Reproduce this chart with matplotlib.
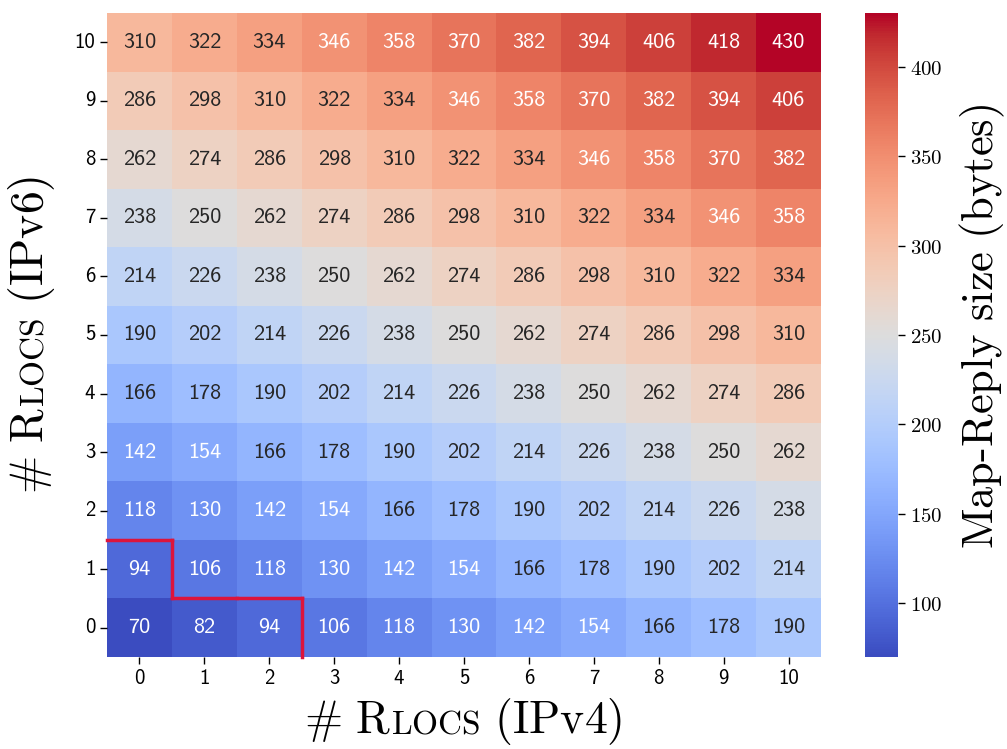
import numpy as np
import matplotlib
matplotlib.use("Agg")
import matplotlib.pyplot as plt
import seaborn as sns
from matplotlib.transforms import IdentityTransform

plt.rcParams['mathtext.fontset'] = 'cm'
plt.rcParams['axes.unicode_minus'] = False

ipv4_counts = [0, 1, 2, 3, 4, 5, 6, 7, 8, 9, 10]
ipv6_counts = [0, 1, 2, 3, 4, 5, 6, 7, 8, 9, 10]
# rows: IPv6 RLOCs 0..10, columns: IPv4 RLOCs 0..10
sizes = [
    [70, 82, 94, 106, 118, 130, 142, 154, 166, 178, 190],
    [94, 106, 118, 130, 142, 154, 166, 178, 190, 202, 214],
    [118, 130, 142, 154, 166, 178, 190, 202, 214, 226, 238],
    [142, 154, 166, 178, 190, 202, 214, 226, 238, 250, 262],
    [166, 178, 190, 202, 214, 226, 238, 250, 262, 274, 286],
    [190, 202, 214, 226, 238, 250, 262, 274, 286, 298, 310],
    [214, 226, 238, 250, 262, 274, 286, 298, 310, 322, 334],
    [238, 250, 262, 274, 286, 298, 310, 322, 334, 346, 358],
    [262, 274, 286, 298, 310, 322, 334, 346, 358, 370, 382],
    [286, 298, 310, 322, 334, 346, 358, 370, 382, 394, 406],
    [310, 322, 334, 346, 358, 370, 382, 394, 406, 418, 430],
]
threshold = 100
cbar_ticks = [100, 150, 200, 250, 300, 350, 400]

data = np.array(sizes)
W, H = 1007, 749
fig = plt.figure(figsize=(W / 100, H / 100), dpi=100)
ax = fig.add_axes([107 / W, 1 - 657 / H, 714 / W, 644 / H])
cax = fig.add_axes([865 / W, 1 - 657 / H, 33 / W, 644 / H])

sns.heatmap(data, ax=ax, cbar_ax=cax, cmap="coolwarm", annot=True, fmt="d",
            annot_kws={"fontsize": 16, "fontfamily": "cmss10"},
            vmin=data.min(), vmax=data.max())
ax.invert_yaxis()
ax.set_xticklabels([str(v) for v in ipv4_counts], fontsize=15, rotation=0, fontfamily="cmss10")
ax.set_yticklabels([str(v) for v in ipv6_counts], fontsize=15, rotation=0, fontfamily="cmss10")
ax.tick_params(length=5, width=1)

# highlight boundary around cells below threshold
mask = data < threshold
n_r, n_c = mask.shape
for i in range(n_r):
    for j in range(n_c):
        if j + 1 < n_c and mask[i, j] != mask[i, j + 1]:
            ax.plot([j + 1, j + 1], [i, i + 1], color="#dc143c", lw=2.5,
                    solid_capstyle="projecting", clip_on=False)
        if i + 1 < n_r and mask[i, j] != mask[i + 1, j]:
            ax.plot([j, j + 1], [i + 1, i + 1], color="#dc143c", lw=2.5,
                    solid_capstyle="projecting", clip_on=False)

cax.set_yticks(cbar_ticks)
cax.set_yticklabels([r"$%d$" % v for v in cbar_ticks], fontsize=15)
cax.tick_params(length=5, width=1)
cax.set_ylim(data.min(), data.max())

renderer = fig.canvas.get_renderer()


def smallcaps(pieces, cx, cy, rotation):
    texts = []
    lengths = []
    for s, fs in pieces:
        t = fig.text(0, 0, s, fontsize=fs, transform=IdentityTransform(),
                     ha="left", va="baseline", rotation=rotation, rotation_mode="anchor")
        bb = t.get_window_extent(renderer)
        lengths.append(bb.width if rotation == 0 else bb.height)
        texts.append(t)
    total = sum(lengths)
    pos = -total / 2
    for t, L in zip(texts, lengths):
        if rotation == 0:
            t.set_position((cx + pos, cy))
        else:
            t.set_position((cx, cy + pos))
        pos += L


big, small = 33, 24
smallcaps([(r"$\#\ \mathrm{R}$", big), (r"$\mathrm{LOCS}$", small), (r"$\ \mathrm{(IPv4)}$", big)],
          463, H - 733, 0)
smallcaps([(r"$\#\ \mathrm{R}$", big), (r"$\mathrm{LOCS}$", small), (r"$\ \mathrm{(IPv6)}$", big)],
          43, H - 335, 90)
fig.text(993, H - 326, r"$\mathrm{Map\text{-}Reply\ size\ (bytes)}$", fontsize=32,
         transform=IdentityTransform(), ha="center", va="baseline", rotation=90,
         rotation_mode="anchor")

fig.savefig("out.png", dpi=100)
